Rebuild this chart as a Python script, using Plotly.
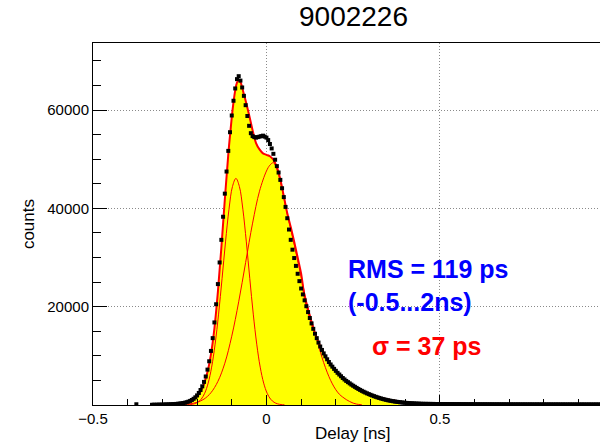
import plotly.graph_objects as go

# ---------------- data ----------------
bin_width = 0.005
first_center = -0.330
counts = [
    40, 55, 50, 65, 70, 80, 85, 95, 110, 120,
    135, 150, 170, 190, 220, 250, 290, 340, 400, 470,
    560, 680, 830, 1020, 1260, 1560, 1950, 2450, 3050, 3800,
    4700, 5800, 7200, 8900, 11000, 13600, 16800, 20500, 24600, 29000,
    33600, 38300, 43000, 47500, 51700, 55500, 58900, 61900, 64400, 66300,
    66900, 66000, 64600, 62900, 61000, 58800, 56800, 55300, 54700, 54500,
    54400, 54500, 54600, 54700, 54800, 54600, 54400, 53900, 53100, 52200,
    51100, 49900, 48600, 47300, 45800, 44100, 42300, 40300, 38000, 35700,
    33600, 31600, 29900, 28300, 26700, 25200, 23700, 22500, 21300, 20100,
    18900, 17700, 16600, 15500, 14500, 13600, 12700, 11900, 11200, 10500,
    9900, 9300, 8750, 8250, 7800, 7350, 6950, 6550, 6200, 5850,
    5500, 5200, 4900, 4650, 4400, 4150, 3920, 3700, 3480, 3270,
    3070, 2880, 2700, 2530, 2370, 2220, 2070, 1930, 1800, 1670,
    1550, 1440, 1330, 1230, 1140, 1050, 970, 900, 830, 770,
    710, 660, 610, 560, 520, 480, 450, 420, 390, 360,
    340, 320, 300, 285, 270, 255, 245, 238, 233, 229,
    224, 219, 215, 211, 207, 203, 199, 196, 192, 190,
    186, 183, 181, 178, 176, 173, 171, 169, 167, 165,
    162, 160, 159, 157, 155, 153, 152, 150, 149, 147,
    146, 145, 143, 142, 141, 140, 139, 138, 137, 136,
    135, 134, 133, 132, 131, 131, 130, 129, 128, 128,
    127, 126, 126, 125, 124, 124, 123, 123, 122, 122,
    121, 121, 120, 120, 119, 119, 118, 118, 117, 117,
    116, 116, 115, 115, 115, 114, 114, 113, 113, 113,
    112, 112, 111, 111, 111, 110, 110, 110, 109, 109,
    109, 108, 108, 108, 107, 107, 107, 106, 106, 105,
]
lone_x = [-0.375]
lone_counts = [150]

# total fit
fit_x = [-0.33, -0.31, -0.29, -0.27, -0.25, -0.23, -0.21, -0.20, -0.19, -0.18,
         -0.17, -0.16, -0.15, -0.14, -0.13, -0.12, -0.11, -0.10, -0.095, -0.09,
         -0.085, -0.08, -0.075, -0.07, -0.065, -0.06, -0.05, -0.04, -0.03, -0.02,
         -0.01, 0.0, 0.01, 0.02, 0.03, 0.04, 0.05, 0.06, 0.07, 0.08,
         0.09, 0.10, 0.11, 0.12, 0.13, 0.14, 0.15, 0.16, 0.17, 0.18,
         0.19, 0.20, 0.22, 0.24, 0.26, 0.28, 0.30, 0.32, 0.34, 0.36, 0.385]
fit_y = [0, 20, 60, 130, 260, 520, 1150, 1750, 2750, 4300,
         6700, 10300, 15600, 23000, 32000, 41800, 51000, 58500, 61600, 64000,
         65600, 66100, 65700, 64600, 63200, 61900, 59000, 55900, 53300, 52000,
         51200, 50900, 50600, 49900, 48400, 45900, 42500, 39000, 36200, 33200,
         30000, 26700, 22000, 19200, 16700, 14600, 12800, 11200, 9800, 8650,
         7700, 6850, 5400, 4250, 3350, 2650, 2080, 1620, 1260, 960, 680]

# narrow gaussian component
g1_x = [-0.228, -0.218, -0.208, -0.198, -0.188, -0.178, -0.168, -0.158, -0.148, -0.138,
        -0.128, -0.118, -0.108, -0.098, -0.088, -0.078, -0.068, -0.058, -0.048, -0.038,
        -0.028, -0.018, -0.008, 0.002, 0.012, 0.022, 0.032, 0.042, 0.052]
g1_y = [36, 96, 240, 555, 1195, 2393, 4453, 7702, 12380, 18490,
        25700, 33190, 39830, 44450, 46100, 44450, 39830, 33190, 25700, 18490,
        12380, 7702, 4453, 2393, 1195, 555, 240, 96, 36]

# broad component
g2_x = [-0.26, -0.24, -0.22, -0.20, -0.18, -0.16, -0.14, -0.12, -0.10, -0.08,
        -0.06, -0.04, -0.02, 0.0, 0.01, 0.02, 0.03, 0.04, 0.05, 0.06,
        0.07, 0.08, 0.09, 0.10, 0.11, 0.12, 0.13, 0.14, 0.15, 0.16,
        0.17, 0.18, 0.19, 0.20, 0.21, 0.22, 0.23, 0.24, 0.25, 0.26, 0.275]
g2_y = [20, 100, 250, 550, 1200, 2500, 4800, 8500, 14000, 21000,
        29000, 37000, 43500, 47600, 48800, 49300, 48000, 45500, 42200, 38800,
        35800, 32700, 29400, 26100, 22800, 19800, 17300, 14700, 12100, 9700,
        7600, 5800, 4300, 3100, 2200, 1600, 1100, 700, 380, 180, 40]

x_tickvals = [-0.5, 0, 0.5]
x_ticktext = ["\u22120.5", "0", "0.5"]
y_tickvals = [20000, 40000, 60000]
y_ticktext = ["20000", "40000", "60000"]

title_text = "9002226"
x_title = "Delay [ns]"
y_title = "counts"
rms_lines = ["RMS = 119 ps", "(-0.5...2ns)"]
sigma_text = "\u03c3 = 37 ps"

# ---------------- figure ----------------
bin_x = [round(first_center + i * bin_width, 4) for i in range(len(counts))]

FONT = "Liberation Sans, Arial, Helvetica, sans-serif"

fig = go.Figure()
fig.add_trace(go.Scatter(x=fit_x, y=fit_y, mode="lines", line=dict(width=0, shape="spline"),
                         fill="tozeroy", fillcolor="#ffff00", hoverinfo="skip"))
fig.add_trace(go.Scatter(x=fit_x, y=fit_y, mode="lines",
                         line=dict(color="#ff0000", width=2, shape="spline")))
fig.add_trace(go.Scatter(x=g1_x, y=g1_y, mode="lines",
                         line=dict(color="#ff0000", width=1, shape="spline")))
fig.add_trace(go.Scatter(x=g2_x, y=g2_y, mode="lines",
                         line=dict(color="#ff0000", width=1, shape="spline")))
fig.add_trace(go.Scatter(x=bin_x + lone_x, y=counts + lone_counts, mode="markers",
                         marker=dict(symbol="square", size=4, color="black", line=dict(width=0))))

fig.update_layout(
    width=600, height=448,
    margin=dict(l=93, r=0, t=43, b=43),
    paper_bgcolor="white", plot_bgcolor="white",
    showlegend=False,
    font=dict(family=FONT, size=15, color="black"),
    xaxis=dict(range=[-0.5, 0.9615], tickvals=x_tickvals, ticktext=x_ticktext,
               ticks="inside", ticklen=10, tickcolor="black", tickwidth=1,
               showline=True, linecolor="black", linewidth=1, mirror=True,
               showgrid=True, gridcolor="#8a8a8a", griddash="1px,2px", gridwidth=1,
               zeroline=False,
               minor=dict(dtick=0.1, tick0=0, ticks="inside", ticklen=6, tickcolor="black",
                          showgrid=False),
               tickfont=dict(size=15)),
    yaxis=dict(range=[0, 73650], tickvals=y_tickvals, ticktext=y_ticktext,
               ticks="inside", ticklen=14, tickcolor="black", tickwidth=1,
               showline=True, linecolor="black", linewidth=1, mirror=False,
               showgrid=True, gridcolor="#8a8a8a", griddash="1px,2px", gridwidth=1,
               zeroline=False,
               minor=dict(dtick=5000, tick0=0, ticks="inside", ticklen=8, tickcolor="black",
                          showgrid=False),
               tickfont=dict(size=15)),
    annotations=[
        dict(text=title_text, xref="paper", yref="paper", x=0.513, y=1.072,
             xanchor="center", yanchor="middle", showarrow=False,
             font=dict(size=28, color="black", family=FONT)),
        dict(text=x_title, xref="paper", yref="paper", x=0.512, y=-0.080,
             xanchor="center", yanchor="middle", showarrow=False,
             font=dict(size=17, color="black", family=FONT)),
        dict(text=y_title, xref="paper", yref="paper", x=-0.128, y=0.50,
             xanchor="center", yanchor="middle", showarrow=False, textangle=-90,
             font=dict(size=17, color="black", family=FONT)),
        dict(text="<b>" + rms_lines[0] + "</b>", xref="paper", yref="paper", x=0.499, y=0.376,
             xanchor="left", yanchor="middle", showarrow=False,
             font=dict(size=25, color="#0000ff", family=FONT)),
        dict(text="<b>" + rms_lines[1] + "</b>", xref="paper", yref="paper", x=0.499, y=0.2845,
             xanchor="left", yanchor="middle", showarrow=False,
             font=dict(size=25, color="#0000ff", family=FONT)),
        dict(text="<b>" + sigma_text + "</b>", xref="paper", yref="paper", x=0.546, y=0.163,
             xanchor="left", yanchor="middle", showarrow=False,
             font=dict(size=25, color="#ff0000", family=FONT)),
    ],
)

fig.write_html("out.html")
